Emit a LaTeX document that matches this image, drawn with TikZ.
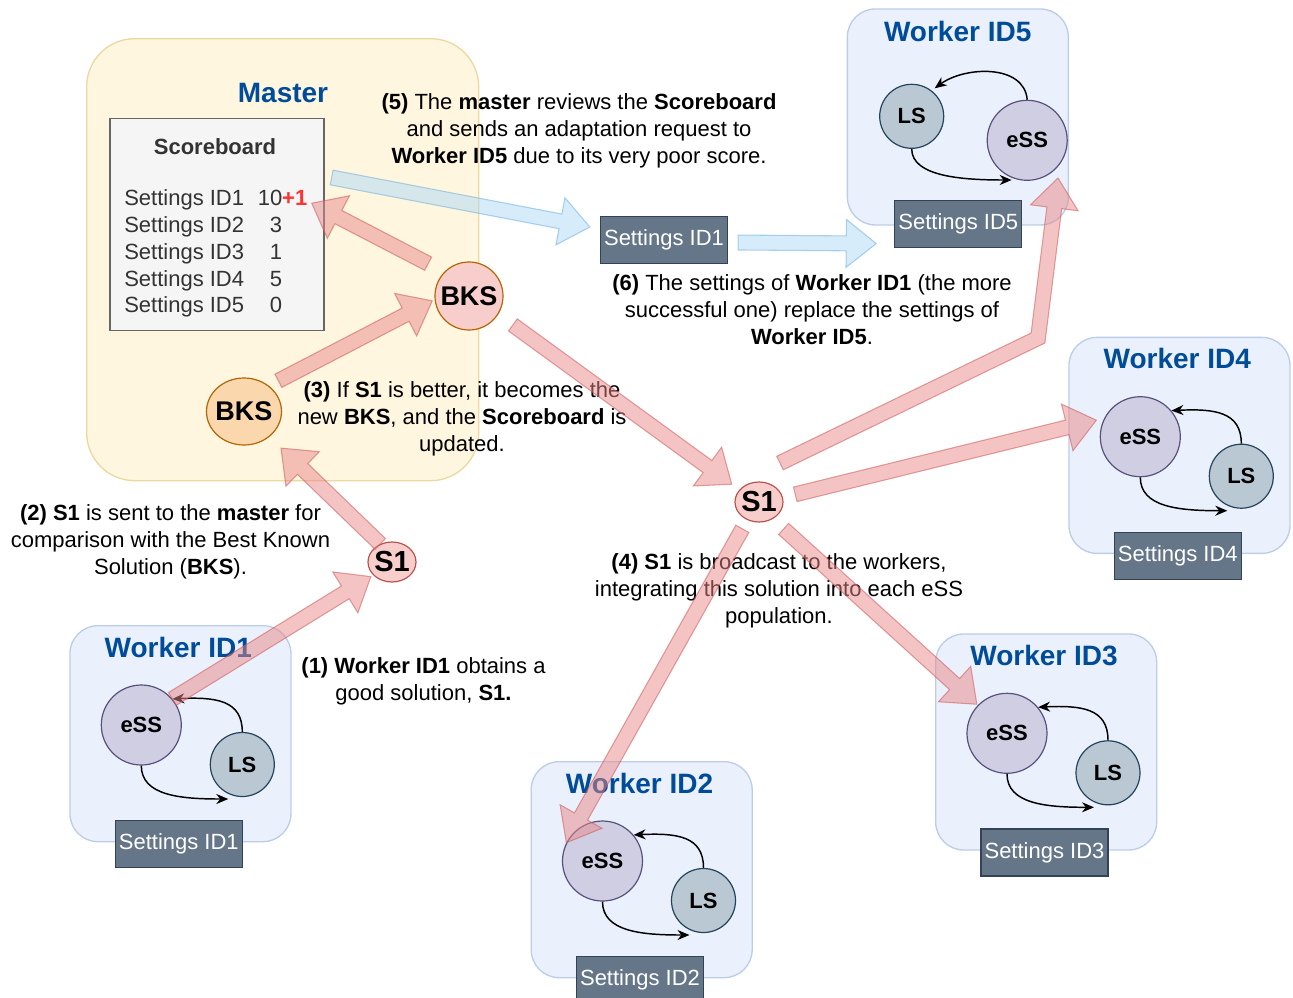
\documentclass[tikz,border=0pt]{standalone}
\usepackage{fontspec}
\setmainfont{Liberation Sans}
\usetikzlibrary{calc,arrows.meta,shapes.geometric}

\definecolor{masterF}{RGB}{255,246,224}
\definecolor{masterE}{RGB}{236,216,160}
\definecolor{workerF}{RGB}{235,241,252}
\definecolor{workerE}{RGB}{188,205,232}
\definecolor{essF}{HTML}{D0CEE2}
\definecolor{essE}{HTML}{56517E}
\definecolor{lsF}{HTML}{BAC8D3}
\definecolor{lsE}{HTML}{23445D}
\definecolor{setF}{HTML}{647687}
\definecolor{setE}{HTML}{314354}
\definecolor{scoreF}{HTML}{F5F5F5}
\definecolor{scoreE}{HTML}{666666}
\definecolor{scoreT}{HTML}{333333}
\definecolor{titleB}{HTML}{004C99}
\definecolor{plusR}{HTML}{FF3333}
\definecolor{bksUF}{HTML}{F8CECC}
\definecolor{bksLF}{HTML}{FAD7AC}
\definecolor{bksE}{HTML}{B46504}
\definecolor{s1F}{HTML}{F8CECC}
\definecolor{s1E}{HTML}{B85450}
\definecolor{pinkF}{RGB}{233,135,135}
\definecolor{pinkE}{RGB}{205,90,90}
\definecolor{blueF}{RGB}{173,217,245}
\definecolor{blueE}{RGB}{110,175,220}

\newcommand\fatW{5.6pt}
\newcommand\fatH{18pt}
\newcommand\fatL{22.5pt}
% #1 style, #2 from, #3 to, #4 shorten at start, #5 shorten at end
\newcommand\fatarrow[5]{%
  \path ($(#2)!#4!(#3)$) coordinate (fas) ($(#3)!#5!(#2)$) coordinate (fae);
  \pgfpointdiff{\pgfpointanchor{fas}{center}}{\pgfpointanchor{fae}{center}}%
  \pgfgetlastxy\fatdx\fatdy
  \pgfmathsetmacro\fatang{atan2(\fatdy,\fatdx)}%
  \pgfmathsetmacro\fatlen{veclen(\fatdx,\fatdy)}%
  \begin{scope}[shift={(fas)},rotate=\fatang]
    \path[#1] (0pt,-\fatW) -- ({\fatlen pt-\fatL},-\fatW) -- ({\fatlen pt-\fatL},-\fatH)
      -- (\fatlen pt,0pt) -- ({\fatlen pt-\fatL},\fatH) -- ({\fatlen pt-\fatL},\fatW)
      -- (0pt,\fatW) -- cycle;
  \end{scope}
}

\tikzset{
  masterbox/.style={draw=masterE, fill=masterF, line width=1pt, rounded corners=36pt},
  workerbox/.style={draw=workerE, fill=workerF, line width=1pt, rounded corners=21pt,
    minimum width=165.75pt, minimum height=162pt, anchor=north west},
  essnode/.style={circle, draw=essE, fill=essF, line width=0.9pt, minimum size=60pt, inner sep=0pt,
    font=\bfseries\fontsize{16.5}{18}\selectfont},
  lsnode/.style={circle, draw=lsE, fill=lsF, line width=0.9pt, minimum size=48pt, inner sep=0pt,
    font=\bfseries\fontsize{16.5}{18}\selectfont},
  setbox/.style={draw=setE, fill=setF, line width=0.9pt, text=white, minimum width=95.25pt,
    minimum height=35.25pt, inner sep=0pt, font=\fontsize{16.5}{18}\selectfont},
  wtitle/.style={text=titleB, font=\bfseries\fontsize{21}{24}\selectfont, inner sep=0pt},
  note/.style={align=center, font=\fontsize{16.5}{20.25}\selectfont, inner sep=0pt},
  sbrow/.style={text=scoreT, font=\fontsize{16.5}{18}\selectfont, inner sep=0pt,
    text height=12pt, text depth=3.5pt},
  cyc/.style={-{Stealth[length=9pt,width=7.5pt]}, line width=1.1pt},
  pinkA/.style={fill=pinkF, fill opacity=0.5, draw=pinkE, draw opacity=0.55, line width=0.8pt, line join=miter},
  blueA/.style={fill=blueF, fill opacity=0.5, draw=blueE, draw opacity=0.55, line width=0.8pt, line join=miter},
  s1node/.style={ellipse, draw=s1E, fill=s1F, line width=0.9pt, minimum width=36pt, minimum height=30pt,
    inner sep=0pt, label={[font=\bfseries\fontsize{21.75}{24}\selectfont]center:S1}},
}

\newcommand\workerA[4]{% prefix, x, y, id
  \begin{scope}[shift={(#2,#3)}]
    \node[workerbox] (#1box) at (0,0) {};
    \node[wtitle] (#1title) at (109,22) {Worker ID#4};
    \node[essnode] (#1ess) at (72,100) {eSS};
    \node[lsnode] (#1ls) at (173,139.5) {LS};
    \node[setbox, anchor=north] (#1set) at (109.5,195) {Settings ID#4};
    \draw[cyc] (#1ls.north) .. controls +(0,-32) and +(43,-2) .. (#1ess.40);
    \draw[cyc] (#1ess.south) .. controls +(0,30) and +(-48,0) .. ($(#1ls.center)+(-14,34.5)$);
  \end{scope}
}

\begin{document}
\begin{tikzpicture}[x=0.75pt,y=-0.75pt]
\useasboundingbox (0,0) rectangle (1293,997);

% Master
\node[masterbox, anchor=north west, minimum width=294pt, minimum height=331.5pt] (master) at (86,38) {};
\node[wtitle] (mtitle) at (283,93) {Master};
\node[draw=scoreE, fill=scoreF, line width=1pt, anchor=north west, minimum width=160.5pt,
  minimum height=159pt, inner sep=0pt] (score) at (109.3,117.5) {};
\node[text=scoreT, font=\bfseries\fontsize{16.5}{18}\selectfont, inner sep=0pt] (sbtitle) at (215,146.5) {Scoreboard};
\node[sbrow, anchor=west] (r1) at (124,200) {Settings ID1};
\node[sbrow, anchor=west] (r2) at (124,227) {Settings ID2};
\node[sbrow, anchor=west] (r3) at (124,254) {Settings ID3};
\node[sbrow, anchor=west] (r4) at (124,280.5) {Settings ID4};
\node[sbrow, anchor=west] (r5) at (124,307) {Settings ID5};
\node[sbrow, anchor=west] (v1) at (257.5,200) {10\textcolor{plusR}{\bfseries +1}};
\node[sbrow] (v2) at (276,227) {3};
\node[sbrow] (v3) at (276,254) {1};
\node[sbrow] (v4) at (276,280.5) {5};
\node[sbrow] (v5) at (276,307) {0};

\node[circle, draw=bksE, fill=bksUF, line width=0.9pt, minimum size=51pt, inner sep=0pt,
  label={[font=\bfseries\fontsize{20.25}{22}\selectfont]center:BKS}] (bksU) at (469,296) {};
\node[ellipse, draw=bksE, fill=bksLF, line width=0.9pt, minimum width=56.25pt, minimum height=50.25pt,
  inner sep=0pt, label={[font=\bfseries\fontsize{20.25}{22}\selectfont]center:BKS}] (bksL) at (244,411.5) {};

% Workers
\workerA{w1}{69.3}{625}{1}
\workerA{w2}{530.5}{761}{2}
\workerA{w3}{935}{633.3}{3}
\workerA{w4}{1068.3}{336.7}{4}
\begin{scope}[shift={(846.7,8.3)}]
  \node[workerbox] (w5box) at (0,0) {};
  \node[wtitle] (w5title) at (111,23.4) {Worker ID5};
  \node[lsnode] (w5ls) at (65,108) {LS};
  \node[essnode] (w5ess) at (180.5,132) {eSS};
  \node[setbox, anchor=north] (w5set) at (111.6,191.7) {Settings ID5};
  \draw[cyc] (w5ess.north) .. controls +(-3,-36) and +(30,-22) .. ($(w5ls.center)+(23,-28)$);
  \draw[cyc] (w5ls.south) .. controls +(0,28) and +(-48,0) .. ($(w5ess.center)+(-15.5,39.7)$);
\end{scope}

\node[setbox] (setmid) at (664,240) {Settings ID1};

% S1 nodes
\node[s1node] (s1lo) at (392,562) {};
\node[s1node] (s1m) at (759,502) {};

% Notes
\node[note] (t5) at (579,131) {\textbf{(5)} The \textbf{master} reviews the \textbf{Scoreboard}\\and sends an adaptation request to\\\textbf{Worker ID5} due to its very poor score.};
\node[note] (t6) at (812,310) {\textbf{(6)} The settings of \textbf{Worker ID1} (the more\\successful one) replace the settings of\\\textbf{Worker ID5}.};
\node[note] (t3) at (462,419) {\textbf{(3)} If \textbf{S1} is better, it becomes the\\new \textbf{BKS}, and the \textbf{Scoreboard} is\\updated.};
\node[note] (t2) at (170.5,542) {\textbf{(2) S1} is sent to the \textbf{master} for\\comparison with the Best Known\\Solution (\textbf{BKS}).};
\node[note] (t4) at (779,591) {\textbf{(4) S1} is broadcast to the workers,\\integrating this solution into each eSS\\population.};
\node[note] (t1) at (423.5,681) {\textbf{(1) Worker ID1} obtains a\\good solution, \textbf{S1.}};

% helper coordinates
\coordinate (sbhit) at ($(score.east)+(-13,-21)$);
\coordinate (sbout) at ($(score.north east)+(7,60)$);
\coordinate (smin) at ($(setmid.west)+(-10,-13)$);
\coordinate (a11s) at ($(setmid.east)+(10,2.5)$);
\coordinate (a11e) at ($(w5set.west)+(-18,19.5)$);

% Fat arrows
\fatarrow{pinkA}{w1ess.40}{s1lo.215}{0pt}{2pt}
\fatarrow{pinkA}{s1lo.123}{bksL.-45}{0pt}{12pt}
\fatarrow{pinkA}{bksL.46}{bksU.186}{8pt}{2pt}
\fatarrow{pinkA}{bksU.136}{sbhit}{13.5pt}{0pt}
\fatarrow{pinkA}{bksU.-32}{s1m.148}{13.5pt}{7pt}
\fatarrow{pinkA}{s1m.11}{w4ess.153}{9.5pt}{6pt}
\fatarrow{pinkA}{s1m.-51}{w3ess.136}{11pt}{1pt}
\fatarrow{pinkA}{s1m.237}{w2ess.155}{7.5pt}{1pt}
\path[pinkA] (776.7,456.3) -- (1031.1,333.0) -- (1046.9,206.9) -- (1030.5,204.8) -- (1058,178)
  -- (1078.1,210.8) -- (1061.7,208.7) -- (1044.9,343.0) -- (783.3,469.8) -- cycle;
\fatarrow{blueA}{sbout}{smin}{0pt}{0pt}
\fatarrow{blueA}{a11s}{a11e}{0pt}{0pt}
\end{tikzpicture}
\end{document}
